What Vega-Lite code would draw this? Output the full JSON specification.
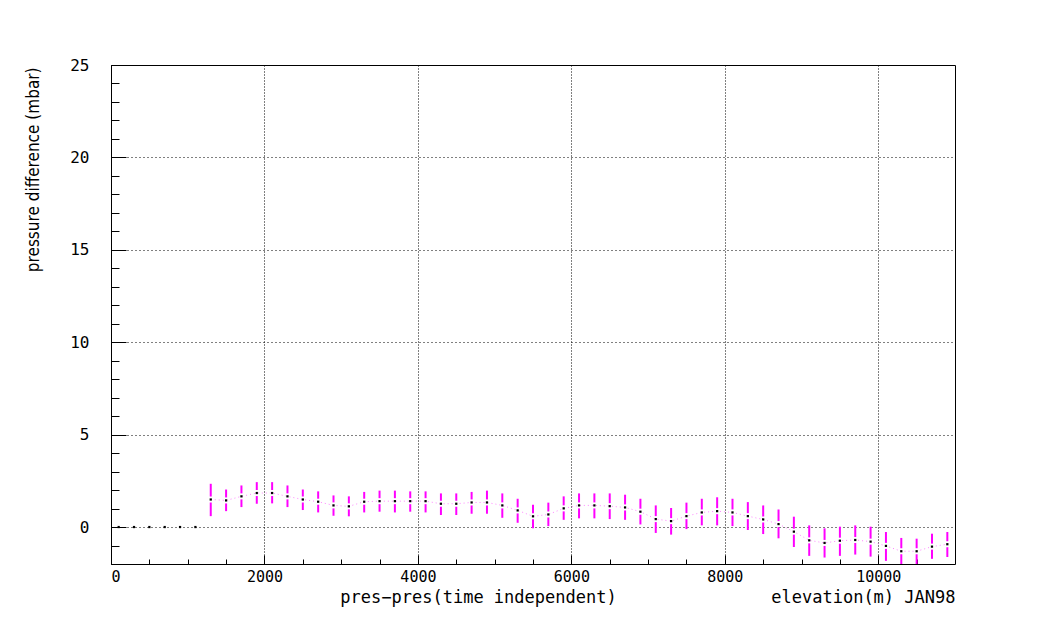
{
  "$schema": "https://vega.github.io/schema/vega-lite/v6.json",
  "autosize": "none",
  "padding": {"left": 111, "top": 65, "right": 99, "bottom": 61},
  "width": 844,
  "height": 499,
  "background": "white",
  "config": {
    "view": {"stroke": "black", "strokeWidth": 1},
    "axis": {"domain": false, "labelColor": "black", "titleColor": "black", "tickColor": "black", "titleFontWeight": "normal"}
  },
  "datasets": {
    "zeros": [
      {"elev": 100, "dp": 0}, {"elev": 300, "dp": 0}, {"elev": 500, "dp": 0},
      {"elev": 700, "dp": 0}, {"elev": 900, "dp": 0}, {"elev": 1100, "dp": 0}
    ],
    "obs": [
      {"elev": 1300, "dp": 1.49, "lo": 0.59, "hi": 2.34},
      {"elev": 1500, "dp": 1.44, "lo": 0.86, "hi": 2.03},
      {"elev": 1700, "dp": 1.66, "lo": 1.08, "hi": 2.25},
      {"elev": 1900, "dp": 1.84, "lo": 1.26, "hi": 2.43},
      {"elev": 2100, "dp": 1.84, "lo": 1.28, "hi": 2.43},
      {"elev": 2300, "dp": 1.66, "lo": 1.08, "hi": 2.25},
      {"elev": 2500, "dp": 1.49, "lo": 0.92, "hi": 2.03},
      {"elev": 2700, "dp": 1.37, "lo": 0.79, "hi": 1.93},
      {"elev": 2900, "dp": 1.17, "lo": 0.61, "hi": 1.71},
      {"elev": 3100, "dp": 1.12, "lo": 0.58, "hi": 1.66},
      {"elev": 3300, "dp": 1.37, "lo": 0.79, "hi": 1.90},
      {"elev": 3500, "dp": 1.40, "lo": 0.83, "hi": 1.97},
      {"elev": 3700, "dp": 1.40, "lo": 0.79, "hi": 1.97},
      {"elev": 3900, "dp": 1.40, "lo": 0.83, "hi": 1.93},
      {"elev": 4100, "dp": 1.40, "lo": 0.79, "hi": 1.93},
      {"elev": 4300, "dp": 1.26, "lo": 0.65, "hi": 1.82},
      {"elev": 4500, "dp": 1.26, "lo": 0.65, "hi": 1.82},
      {"elev": 4700, "dp": 1.33, "lo": 0.72, "hi": 1.90},
      {"elev": 4900, "dp": 1.33, "lo": 0.72, "hi": 1.97},
      {"elev": 5100, "dp": 1.17, "lo": 0.50, "hi": 1.82},
      {"elev": 5300, "dp": 0.90, "lo": 0.23, "hi": 1.53},
      {"elev": 5500, "dp": 0.58, "lo": -0.07, "hi": 1.21},
      {"elev": 5700, "dp": 0.68, "lo": 0.05, "hi": 1.32},
      {"elev": 5900, "dp": 1.01, "lo": 0.39, "hi": 1.66},
      {"elev": 6100, "dp": 1.17, "lo": 0.47, "hi": 1.82},
      {"elev": 6300, "dp": 1.17, "lo": 0.47, "hi": 1.82},
      {"elev": 6500, "dp": 1.13, "lo": 0.43, "hi": 1.82},
      {"elev": 6700, "dp": 1.06, "lo": 0.39, "hi": 1.75},
      {"elev": 6900, "dp": 0.83, "lo": 0.14, "hi": 1.53},
      {"elev": 7100, "dp": 0.43, "lo": -0.32, "hi": 1.17},
      {"elev": 7300, "dp": 0.32, "lo": -0.41, "hi": 1.03},
      {"elev": 7500, "dp": 0.59, "lo": -0.11, "hi": 1.32},
      {"elev": 7700, "dp": 0.79, "lo": 0.09, "hi": 1.53},
      {"elev": 7900, "dp": 0.86, "lo": 0.09, "hi": 1.61},
      {"elev": 8100, "dp": 0.79, "lo": 0.05, "hi": 1.53},
      {"elev": 8300, "dp": 0.59, "lo": -0.16, "hi": 1.35},
      {"elev": 8500, "dp": 0.41, "lo": -0.38, "hi": 1.17},
      {"elev": 8700, "dp": 0.16, "lo": -0.61, "hi": 0.95},
      {"elev": 8900, "dp": -0.25, "lo": -1.08, "hi": 0.56},
      {"elev": 9100, "dp": -0.72, "lo": -1.56, "hi": 0.09},
      {"elev": 9300, "dp": -0.86, "lo": -1.65, "hi": -0.07},
      {"elev": 9500, "dp": -0.74, "lo": -1.56, "hi": 0.02},
      {"elev": 9700, "dp": -0.70, "lo": -1.49, "hi": 0.09},
      {"elev": 9900, "dp": -0.79, "lo": -1.60, "hi": 0.02},
      {"elev": 10100, "dp": -1.02, "lo": -1.83, "hi": -0.27},
      {"elev": 10300, "dp": -1.31, "lo": -2.10, "hi": -0.59},
      {"elev": 10500, "dp": -1.31, "lo": -2.10, "hi": -0.63},
      {"elev": 10700, "dp": -1.06, "lo": -1.72, "hi": -0.36},
      {"elev": 10900, "dp": -0.93, "lo": -1.62, "hi": -0.27}
    ]
  },
  "resolve": {"axis": {"x": "independent", "y": "independent"}},
  "layer": [
    {
      "data": {"name": "obs"},
      "mark": {"type": "line", "stroke": "#ff66ff", "strokeWidth": 1, "strokeDash": [1, 3], "opacity": 0.8},
      "encoding": {
        "x": {"field": "elev", "type": "quantitative",
          "scale": {"domain": [0, 11000], "nice": false, "zero": false},
          "axis": {"orient": "bottom", "values": [0, 2000, 4000, 6000, 8000, 10000], "format": "d",
            "grid": true, "gridColor": "black", "gridDash": [1, 2], "gridWidth": 1, "gridOpacity": 1,
            "ticks": false, "labelFont": "DejaVu Sans Mono", "labelFontSize": 15, "labelPadding": 5,
            "title": "pres−pres(time independent)", "titleFont": "DejaVu Sans Mono", "titleFontSize": 17,
            "titleX": 367, "titleY": 33, "titleAlign": "center", "titleBaseline": "middle", "titleAngle": 0}},
        "y": {"field": "dp", "type": "quantitative",
          "scale": {"domain": [-2, 25], "nice": false, "zero": false},
          "axis": {"orient": "left", "values": [0, 5, 10, 15, 20, 25],
            "grid": true, "gridColor": "black", "gridDash": [1, 3], "gridWidth": 1, "gridOpacity": 1,
            "ticks": false, "labelFont": "DejaVu Sans Mono", "labelFontSize": 16, "labelPadding": 22,
            "title": "pressure difference (mbar)", "titleFont": "Liberation Sans Narrow, DejaVu Sans Condensed, sans-serif",
            "titleFontSize": 17, "titleAngle": -90, "titleX": -78, "titleY": 2, "titleAlign": "right", "titleBaseline": "middle"}}
      }
    },
    {
      "data": {"name": "obs"},
      "mark": {"type": "rule", "stroke": "#ff00ff", "strokeWidth": 2, "y2Offset": 3, "clip": true},
      "encoding": {
        "x": {"field": "elev", "type": "quantitative",
          "axis": {"orient": "bottom", "values": [0, 2000, 4000, 6000, 8000, 10000], "grid": false,
            "labels": false, "ticks": true, "tickSize": -9, "tickWidth": 1,
            "title": "elevation(m) JAN98", "titleFont": "DejaVu Sans Mono", "titleFontSize": 17,
            "titleX": 844, "titleY": 33, "titleAlign": "right", "titleBaseline": "middle", "titleAngle": 0}},
        "y": {"field": "lo", "type": "quantitative",
          "axis": {"orient": "left", "values": [0, 5, 10, 15, 20, 25], "grid": false,
            "labels": false, "ticks": true, "tickSize": -15, "tickWidth": 1, "title": null}},
        "y2": {"field": "dp"}
      }
    },
    {
      "data": {"name": "obs"},
      "mark": {"type": "rule", "stroke": "#ff00ff", "strokeWidth": 2, "yOffset": -3, "clip": true},
      "encoding": {
        "x": {"field": "elev", "type": "quantitative",
          "axis": {"orient": "bottom", "values": [0, 500, 1000, 1500, 2500, 3000, 3500, 4500, 5000, 5500, 6500, 7000, 7500, 8500, 9000, 9500, 10500],
            "grid": false, "labels": false, "ticks": true, "tickSize": -5, "tickWidth": 1, "title": null}},
        "y": {"field": "dp", "type": "quantitative",
          "axis": {"orient": "left", "values": [-1, 1, 2, 3, 4, 6, 7, 8, 9, 11, 12, 13, 14, 16, 17, 18, 19, 21, 22, 23, 24],
            "grid": false, "labels": false, "ticks": true, "tickSize": -8, "tickWidth": 1, "title": null}},
        "y2": {"field": "hi"}
      }
    },
    {
      "data": {"name": "obs"},
      "mark": {"type": "point", "shape": "square", "size": 5, "filled": true, "color": "black", "opacity": 1},
      "encoding": {
        "x": {"field": "elev", "type": "quantitative", "axis": null},
        "y": {"field": "dp", "type": "quantitative", "axis": null}
      }
    },
    {
      "data": {"name": "zeros"},
      "mark": {"type": "point", "shape": "square", "size": 5, "filled": true, "color": "black", "opacity": 1},
      "encoding": {
        "x": {"field": "elev", "type": "quantitative", "axis": null},
        "y": {"field": "dp", "type": "quantitative", "axis": null}
      }
    }
  ]
}
